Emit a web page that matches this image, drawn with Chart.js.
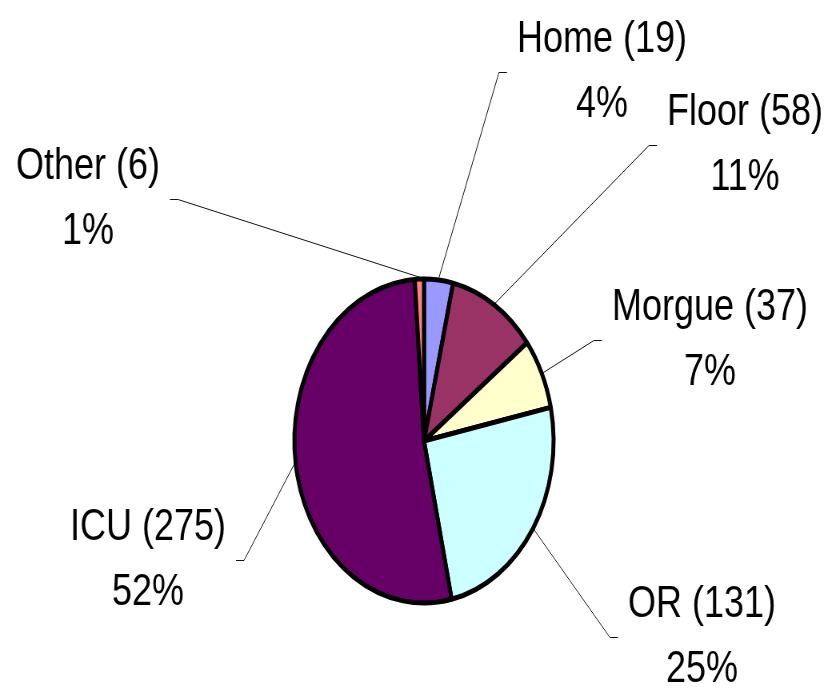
<!DOCTYPE html>
<html>
<head>
<meta charset="utf-8">
<script src="https://cdn.jsdelivr.net/npm/chart.js@4.4.1/dist/chart.umd.min.js"></script>
<style>
  html, body { margin: 0; padding: 0; background: #fff; overflow: hidden; }
  /* the original chart is squeezed horizontally (pie is an ellipse, text is narrow) */
  #wrap { width: 1041px; height: 688px; transform: scaleX(0.8); transform-origin: 0 0; }
</style>
</head>
<body>
<div id="wrap"><canvas id="pie"></canvas></div>
<script>
// data
const categories = ['Home', 'Floor', 'Morgue', 'OR', 'ICU', 'Other'];
const counts = [19, 58, 37, 131, 275, 6];
const sliceColors = ['#9999FF', '#993366', '#FFFFCC', '#CCFFFF', '#660066', '#FF8080'];

// label placement on the page (x = centre of text, y = first baseline), page pixels
const labelSpots = [[602, 52], [745, 125], [710, 320], [702, 617], [148, 540], [88, 179]];

const SX = 0.8;          // horizontal squeeze of the wrapper
const LINE_GAP = 65;     // between the two lines of a label
const FONT = '45px "Liberation Sans", Arial, sans-serif';

const total = counts.reduce((a, b) => a + b, 0);

// draws "Name (n)" / "pct%" labels with elbow leader lines
const calloutPlugin = {
  id: 'callouts',
  afterDraw(chart) {
    const ctx = chart.ctx;
    const meta = chart.getDatasetMeta(0);
    ctx.save();
    ctx.font = FONT;
    ctx.textAlign = 'center';
    ctx.textBaseline = 'alphabetic';
    meta.data.forEach((arc, i) => {
      const p = arc.getProps(['x', 'y', 'startAngle', 'endAngle', 'outerRadius'], true);
      const mid = (p.startAngle + p.endAngle) / 2;
      const ex = p.x + Math.cos(mid) * (p.outerRadius + 2);
      const ey = p.y + Math.sin(mid) * (p.outerRadius + 2);

      const line1 = categories[i] + ' (' + counts[i] + ')';
      const line2 = Math.round(counts[i] / total * 100) + '%';
      const cx = labelSpots[i][0] / SX;
      const base = labelSpots[i][1];
      const w = Math.max(ctx.measureText(line1).width, ctx.measureText(line2).width);
      const top = base - 32;
      const bottom = base + LINE_GAP;
      const my = (top + bottom) / 2 + 4;

      let tickEnd, elbow;
      if (ex < cx - w / 2) {
        tickEnd = cx - w / 2 - 10 / SX;
        elbow = tickEnd - 8 / SX;
      } else {
        tickEnd = cx + w / 2 + 10 / SX;
        elbow = tickEnd + 8 / SX;
      }

      ctx.strokeStyle = '#111';
      ctx.lineWidth = 1;
      ctx.beginPath();
      ctx.moveTo(ex, ey);
      ctx.lineTo(elbow, my);
      ctx.lineTo(tickEnd, my);
      ctx.stroke();

      ctx.fillStyle = '#000';
      ctx.fillText(line1, cx, base);
      ctx.fillText(line2, cx, base + LINE_GAP);
    });
    ctx.restore();
  }
};

new Chart(document.getElementById('pie'), {
  type: 'pie',
  data: {
    labels: categories,
    datasets: [{
      data: counts,
      backgroundColor: sliceColors,
      borderColor: '#000',
      borderWidth: 5,
      radius: 162
    }]
  },
  options: {
    responsive: true,
    maintainAspectRatio: false,
    animation: false,
    layout: { padding: { left: 19, right: 0, top: 200, bottom: 6 } },
    plugins: {
      legend: { display: false },
      tooltip: { enabled: false }
    }
  },
  plugins: [calloutPlugin]
});
</script>
</body>
</html>
